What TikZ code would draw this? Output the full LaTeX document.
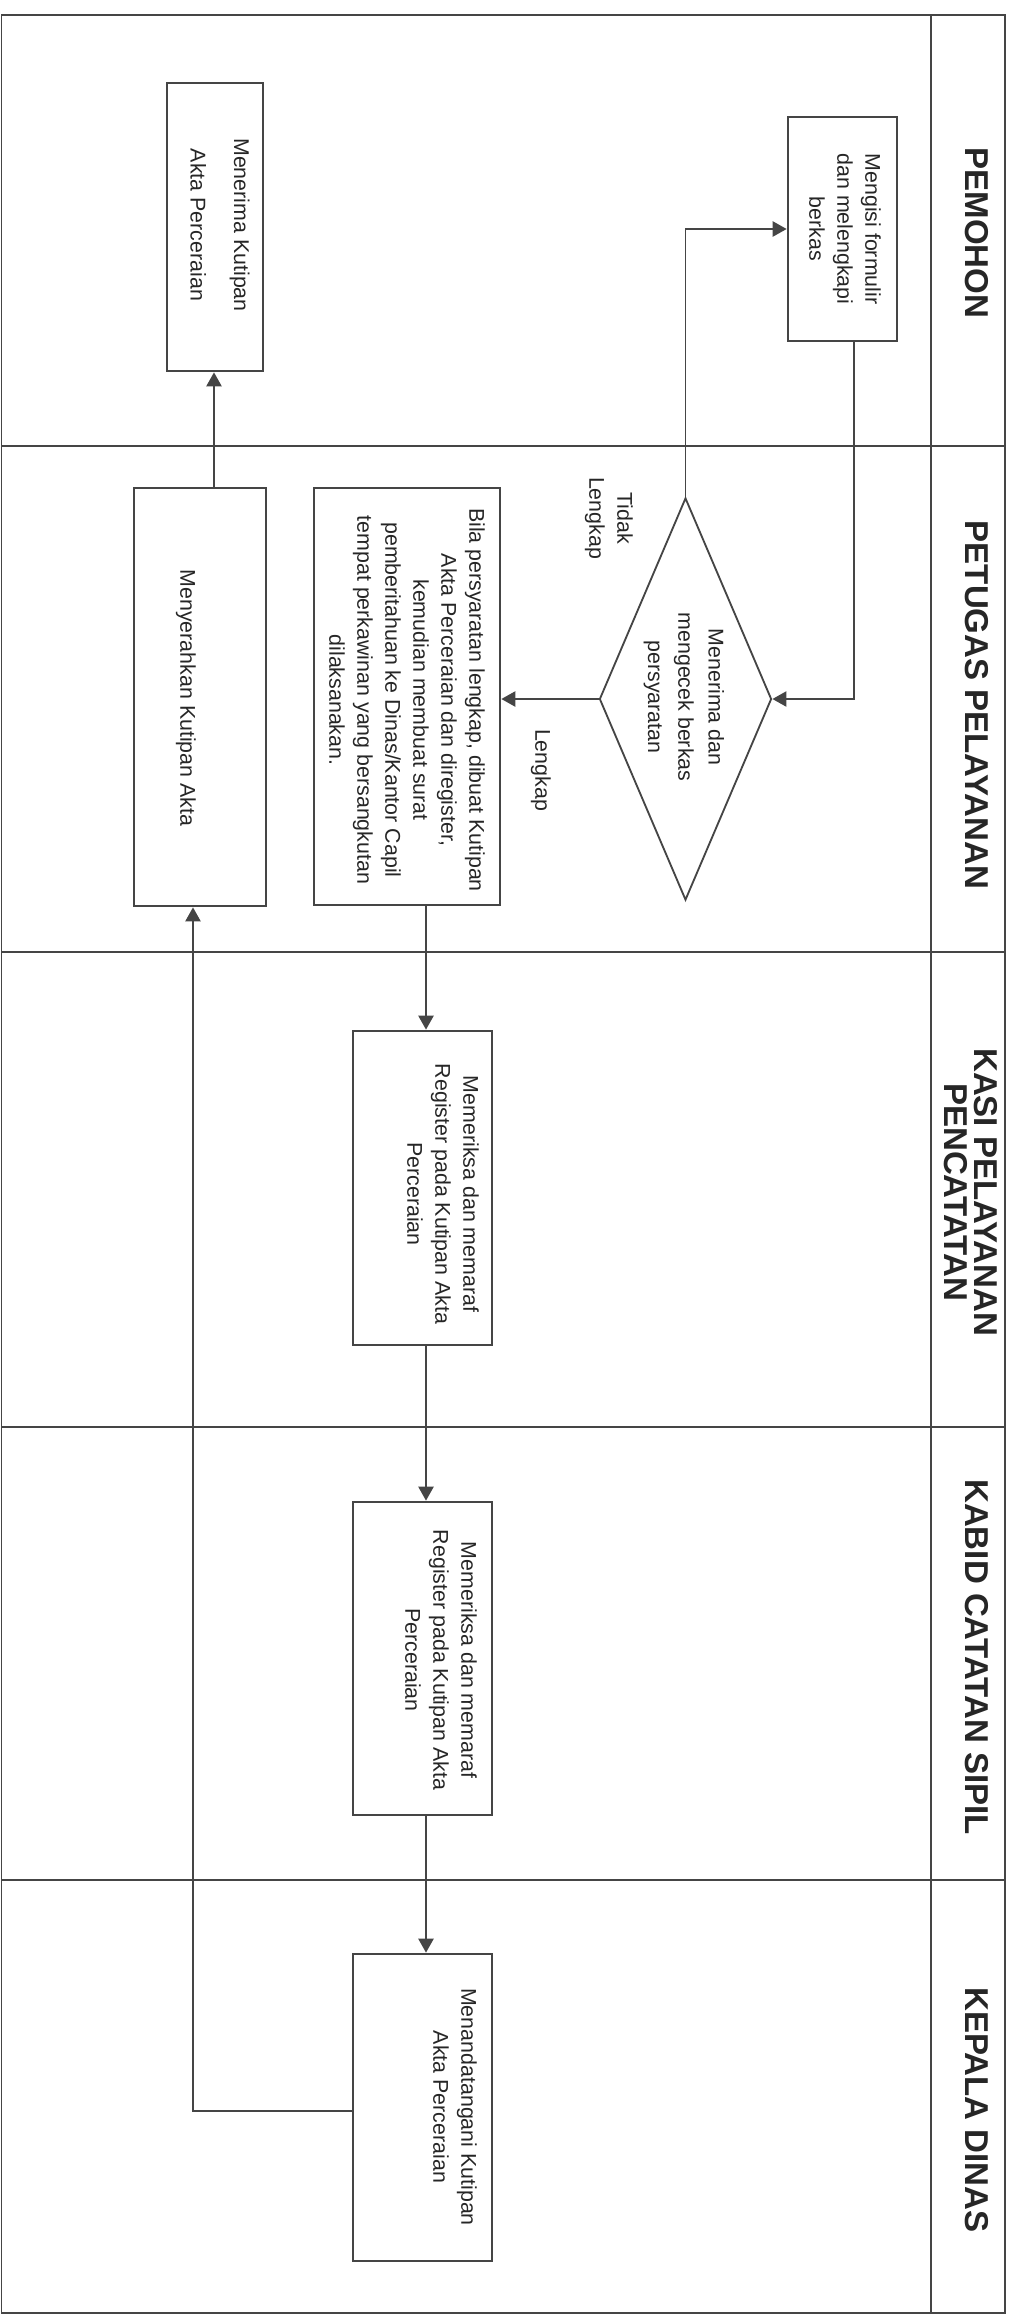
\documentclass[tikz,border=0pt]{standalone}
\usepackage{fontspec}
\setmainfont{Liberation Sans}
\usetikzlibrary{arrows.meta,calc,shapes.geometric}
\definecolor{ink}{HTML}{262626}
\definecolor{edgec}{HTML}{454545}
\begin{document}
\begin{tikzpicture}[x=0.025cm,y=-0.025cm,
  lane/.style={draw=edgec,line width=1.3pt},
  procbox/.style={draw=edgec,line width=1.9pt,fill=white,inner sep=0pt,rectangle},
  txt/.style={rotate=-90,align=center,text=ink,font=\fontsize{15.2}{19.9}\selectfont,inner sep=0pt},
  ttl/.style={rotate=-90,align=center,text=ink,font=\fontsize{23.5}{21.3}\selectfont\bfseries,inner sep=0pt},
  arr/.style={draw=edgec,line width=1.3pt,-{Triangle[length=0.35cm,width=0.38cm]}}]
\useasboundingbox[fill=white] (0,0) rectangle (1016,2317);

% frame and lanes
\draw[lane] (1.5,15) rectangle (1005,2313);
\draw[lane] (931,15) -- (931,2313);
\foreach \yy in {446,952,1427,1880} \draw[lane] (1.5,\yy) -- (1005,\yy);

% lane titles
\node[ttl] (h1) at (977,233) {PEMOHON};
\node[ttl] (h2) at (977,705) {PETUGAS PELAYANAN};
\node[ttl] (h3) at (971,1192) {KASI PELAYANAN\\PENCATATAN};
\node[ttl] (h4) at (977,1657) {KABID CATATAN SIPIL};
\node[ttl] (h5) at (977,2110) {KEPALA DINAS};

% shapes
\node[procbox,minimum width=2.725cm,minimum height=5.6cm] (B1) at (842.5,229) {};
\node[procbox,minimum width=2.4cm,minimum height=7.2cm] (B2) at (215,227) {};
\node[draw=edgec,line width=1.3pt,fill=white,diamond,inner sep=0pt,minimum width=4.3cm,minimum height=10.05cm] (D) at (685.5,699) {};
\node[procbox,minimum width=4.65cm,minimum height=10.425cm] (B3) at (407,696.5) {};
\node[procbox,minimum width=3.3cm,minimum height=10.45cm] (B4) at (200,697) {};
\node[procbox,minimum width=3.475cm,minimum height=7.85cm] (B5) at (422.5,1188) {};
\node[procbox,minimum width=3.475cm,minimum height=7.825cm] (B6) at (422.5,1658.5) {};
\node[procbox,minimum width=3.475cm,minimum height=7.675cm] (B7) at (422.5,2107.5) {};

% texts
\node[txt] (t1) at (845,229) {Mengisi formulir\\dan melengkapi\\berkas};
\node[txt,font=\fontsize{15.2}{31}\selectfont] (t2) at (220,225) {Menerima Kutipan\\Akta Perceraian};
\node[txt,font=\fontsize{15.2}{21.5}\selectfont] (td) at (684,697) {Menerima dan\\mengecek berkas\\persyaratan};
\node[txt] (t3) at (407,700) {Bila persyaratan lengkap, dibuat Kutipan\\Akta Perceraian dan diregister,\\kemudian membuat surat\\pemberitahuan ke Dinas/Kantor Capil\\tempat perkawinan yang bersangkutan\\dilaksanakan.};
\node[txt] (t4) at (186,698) {Menyerahkan Kutipan Akta};
\node[txt] (t5) at (443,1194) {Memeriksa dan memaraf\\Register pada Kutipan Akta\\Perceraian};
\node[txt] (t6) at (441,1660) {Memeriksa dan memaraf\\Register pada Kutipan Akta\\Perceraian};
\node[txt] (t7) at (455,2107) {Menandatangani Kutipan\\Akta Perceraian};
\node[txt] (l1) at (609,518) {Tidak\\Lengkap};
\node[txt] (l2) at (541,770) {Lengkap};

% connectors
\draw[arr] (D.north) |- (B1.west);
\coordinate (p0) at ($(B1.south)+(11.5,0)$);
\draw[arr] (p0) |- (D.east);
\draw[arr] (D.west) -- (D.west -| B3.east);
\coordinate (p1) at ($(B3.south)+(19,0)$);
\draw[arr] (p1) -- (p1 |- B5.north);
\coordinate (p2) at ($(B5.south)+(3.5,0)$);
\draw[arr] (p2) -- (p2 |- B6.north);
\coordinate (p3) at ($(B6.south)+(3.5,0)$);
\draw[arr] (p3) -- (p3 |- B7.north);
\coordinate (p4) at ($(B7.west)+(0,3.5)$);
\coordinate (p5) at ($(B4.south)+(-7,0)$);
\draw[arr] (p4) -| (p5);
\coordinate (p6) at ($(B4.north)+(14,0)$);
\draw[arr] (p6) -- (p6 |- B2.south);
\end{tikzpicture}
\end{document}
